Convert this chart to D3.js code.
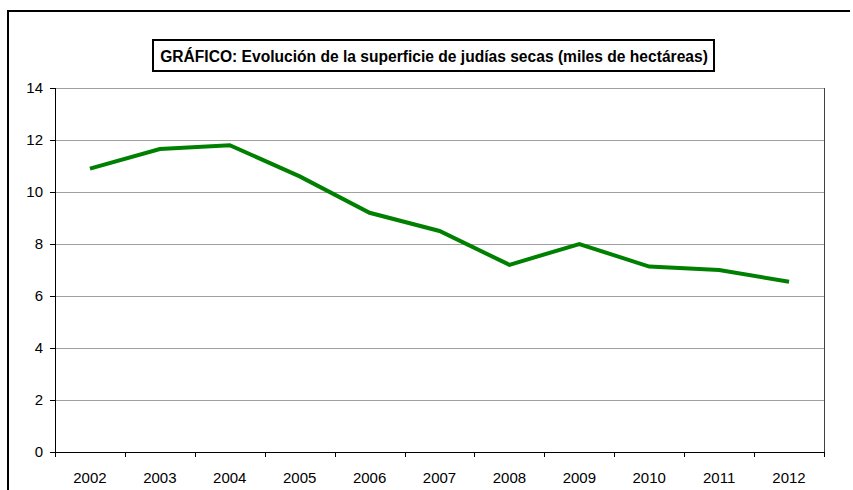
<!DOCTYPE html>
<html><head><meta charset="utf-8">
<script src="https://cdn.jsdelivr.net/npm/d3@7/dist/d3.min.js"></script>
<style>body{margin:0;background:#fff}svg{display:block}text{font-family:"Liberation Sans",Arial,sans-serif}</style>
</head><body>
<script>
const years = ["2002","2003","2004","2005","2006","2007","2008","2009","2010","2011","2012"];
const values = [10.9, 11.65, 11.8, 10.6, 9.2, 8.5, 7.2, 8.0, 7.13, 7.0, 6.55];
const yTicks = [0, 2, 4, 6, 8, 10, 12, 14];
const title = "GRÁFICO: Evolución de la superficie de judías secas (miles de hectáreas)";

const W = 853, H = 490;
const svg = d3.select("body").append("svg").attr("width", W).attr("height", H);
const m = {l: 55, r: 824, t: 88, b: 452};

// outer frame
svg.append("line").attr("x1", 8).attr("x2", 850).attr("y1", 11).attr("y2", 11).attr("stroke", "#000").attr("stroke-width", 2);
svg.append("line").attr("x1", 8).attr("x2", 8).attr("y1", 10).attr("y2", H).attr("stroke", "#000").attr("stroke-width", 2);

const x = d3.scaleBand().domain(years).range([m.l, m.r]);
const y = d3.scaleLinear().domain([0, 14]).range([m.b, m.t]);

// gridlines
svg.append("g").selectAll("line").data(yTicks.filter(d => d > 0)).join("line")
  .attr("x1", m.l).attr("x2", m.r).attr("y1", d => Math.round(y(d)) + 0.5).attr("y2", d => Math.round(y(d)) + 0.5)
  .attr("stroke", "#a0a0a0").attr("stroke-width", 1);
// right border
svg.append("line").attr("x1", m.r + 0.5).attr("x2", m.r + 0.5).attr("y1", m.t).attr("y2", m.b)
  .attr("stroke", "#404040").attr("stroke-width", 1);

// y axis
const ya = svg.append("g").attr("transform", `translate(${m.l},0)`)
  .call(d3.axisLeft(y).tickValues(yTicks).tickSize(5).tickPadding(7));
ya.select(".domain").remove();
ya.append("line").attr("x1", 0.5).attr("x2", 0.5).attr("y1", m.t).attr("y2", m.b).attr("stroke", "#000");
ya.selectAll(".tick line").attr("stroke", "#000");
ya.selectAll("text").attr("font-size", 15).attr("fill", "#000").attr("font-family", "Liberation Sans, Arial, sans-serif");

// x axis
const xa = svg.append("g").attr("transform", `translate(0,${m.b})`);
xa.append("line").attr("x1", m.l).attr("x2", m.r).attr("y1", 0.5).attr("y2", 0.5).attr("stroke", "#000");
const bounds = years.map(d => x(d)).concat([m.r]);
xa.selectAll("line.tk").data(bounds).join("line").attr("class", "tk")
  .attr("x1", d => Math.round(d) + 0.5).attr("x2", d => Math.round(d) + 0.5).attr("y1", 0).attr("y2", 5)
  .attr("stroke", "#000");
xa.selectAll("text").data(years).join("text")
  .attr("x", d => x(d) + x.bandwidth() / 2).attr("y", 31)
  .attr("text-anchor", "middle").attr("font-size", 15).attr("fill", "#000").text(d => d);

// line
const line = d3.line().x((d, i) => x(years[i]) + x.bandwidth() / 2).y(d => y(d));
svg.append("path").datum(values).attr("d", line).attr("fill", "none")
  .attr("stroke", "#008000").attr("stroke-width", 4).attr("stroke-linejoin", "miter");

// title
svg.append("rect").attr("x", 153).attr("y", 40).attr("width", 561).attr("height", 31)
  .attr("fill", "#fff").attr("stroke", "#000").attr("stroke-width", 2);
svg.append("text").attr("x", 434).attr("y", 61.5).attr("text-anchor", "middle")
  .attr("font-size", 15.6).attr("font-weight", "bold").attr("fill", "#000").text(title);
</script>
</body></html>
